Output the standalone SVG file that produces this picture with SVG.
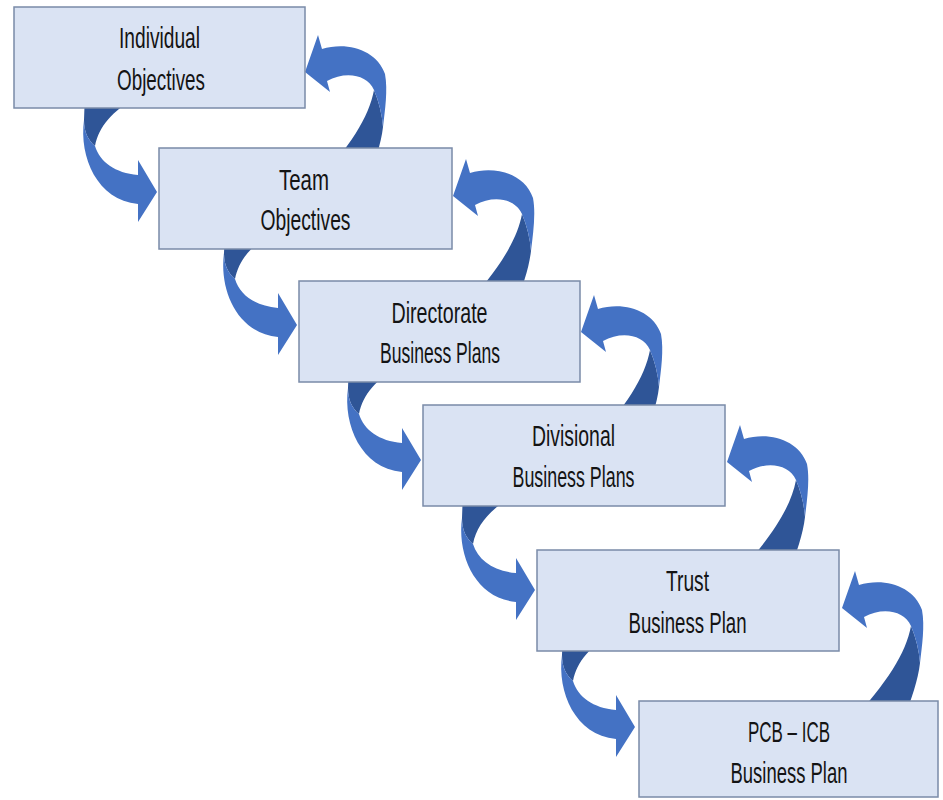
<svg xmlns="http://www.w3.org/2000/svg" xmlns:xlink="http://www.w3.org/1999/xlink" width="943" height="800" viewBox="0 0 943 800">
  <style>
    .box { fill: #DAE3F3; stroke: #7A8BA8; stroke-width: 1.5; }
    .label { font-family: "Liberation Sans", Arial, sans-serif; font-size: 30px; fill: #141414; text-anchor: middle; }
    .front { fill: #4472C4; }
    .back { fill: #2F5597; }
  </style>
  <defs>
    <!-- curved arrow from a box's underside into the next box's left edge; tip at origin -->
    <g id="arrowDown">
      <path class="back" d="M -72,-100 L -73,-72 C -73,-60 -69,-52 -62,-46 C -58,-66 -45,-80 -20,-96 L -20,-100 Z"/>
      <path class="front" d="M -73,-72 C -78,-35 -60,8 -19,12 L -19,30 L 0,0 L -19,-32 L -19,-17 C -42,-19 -57,-30 -62,-46 C -69,-52 -73,-60 -73,-72 Z"/>
    </g>
    <!-- curved arrow from a box's top back into the previous box's right edge; tip at origin -->
    <g id="arrowUp">
      <path class="back" d="M 69,18 C 74,30 77,42 78,55 C 76,72 70,90 60,115 L 8,115 C 45,75 64,45 69,18 Z"/>
      <path class="front" d="M 0,0 L 13,-37 L 17,-23 C 42,-31 72,-22 80,2 C 83,18 80,38 78,55 C 77,42 74,30 69,18 C 62,2 40,-1 22,9 L 25,20 Z"/>
    </g>
  </defs>

  <rect width="943" height="800" fill="#FFFFFF"/>

  <g id="connectors">
    <use xlink:href="#arrowDown" transform="translate(157,192)"/>
    <use xlink:href="#arrowDown" transform="translate(297,325)"/>
    <use xlink:href="#arrowDown" transform="translate(421,460)"/>
    <use xlink:href="#arrowDown" transform="translate(535,590)"/>
    <use xlink:href="#arrowDown" transform="translate(635,727)"/>
    <use xlink:href="#arrowUp" transform="translate(305,72)"/>
    <use xlink:href="#arrowUp" transform="translate(453,196)"/>
    <use xlink:href="#arrowUp" transform="translate(581,332)"/>
    <use xlink:href="#arrowUp" transform="translate(727,462)"/>
    <use xlink:href="#arrowUp" transform="translate(842,608)"/>
  </g>

  <g id="individual-objectives">
    <rect class="box" x="14" y="7" width="291" height="101"/>
    <text class="label" x="159.5" y="48" textLength="81" lengthAdjust="spacingAndGlyphs">Individual</text>
    <text class="label" x="161" y="90" textLength="88" lengthAdjust="spacingAndGlyphs">Objectives</text>
  </g>

  <g id="team-objectives">
    <rect class="box" x="159" y="148" width="293" height="101"/>
    <text class="label" x="304" y="190" textLength="50" lengthAdjust="spacingAndGlyphs">Team</text>
    <text class="label" x="305.5" y="230" textLength="90" lengthAdjust="spacingAndGlyphs">Objectives</text>
  </g>

  <g id="directorate-business-plans">
    <rect class="box" x="299" y="281" width="281" height="101"/>
    <text class="label" x="439.5" y="323" textLength="96" lengthAdjust="spacingAndGlyphs">Directorate</text>
    <text class="label" x="440" y="363" textLength="120" lengthAdjust="spacingAndGlyphs">Business Plans</text>
  </g>

  <g id="divisional-business-plans">
    <rect class="box" x="423" y="405" width="302" height="101"/>
    <text class="label" x="573.5" y="446" textLength="83" lengthAdjust="spacingAndGlyphs">Divisional</text>
    <text class="label" x="573.5" y="487" textLength="122" lengthAdjust="spacingAndGlyphs">Business Plans</text>
  </g>

  <g id="trust-business-plan">
    <rect class="box" x="537" y="550" width="302" height="101"/>
    <text class="label" x="687.5" y="591" textLength="43" lengthAdjust="spacingAndGlyphs">Trust</text>
    <text class="label" x="687.5" y="633" textLength="118" lengthAdjust="spacingAndGlyphs">Business Plan</text>
  </g>

  <g id="pcb-icb-business-plan">
    <rect class="box" x="639" y="701" width="299" height="96"/>
    <text class="label" x="789" y="742" textLength="82" lengthAdjust="spacingAndGlyphs">PCB – ICB</text>
    <text class="label" x="789" y="783" textLength="117" lengthAdjust="spacingAndGlyphs">Business Plan</text>
  </g>
</svg>
